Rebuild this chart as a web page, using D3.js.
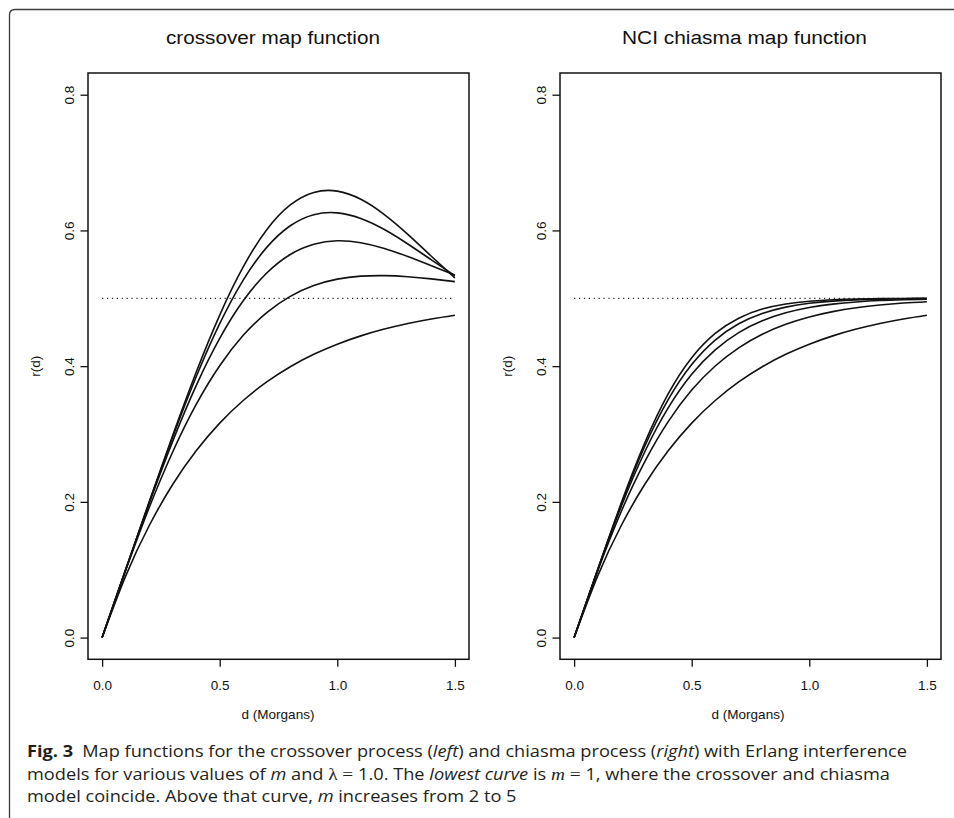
<!DOCTYPE html>
<html><head><meta charset="utf-8">
<script src="https://cdn.jsdelivr.net/npm/d3@7"></script>
<style>body{margin:0;background:#fff} svg{display:block}</style>
</head><body><svg id="chart" width="954" height="818"></svg>
<script>
// ---- data ----
const dValues = [0, 0.1, 0.2, 0.3, 0.4, 0.5, 0.6, 0.7, 0.8, 0.9, 1.0, 1.1, 1.2, 1.3, 1.4, 1.5];
const haldaneM1 = [0, 0.0906, 0.1648, 0.2256, 0.2753, 0.3161, 0.3494, 0.3767, 0.3991, 0.4174, 0.4323, 0.4446, 0.4546, 0.4629, 0.4696, 0.4751];
const crossoverM2 = [0, 0.0988, 0.1913, 0.2735, 0.3435, 0.4006, 0.4454, 0.4790, 0.5029, 0.5188, 0.5282, 0.5326, 0.5334, 0.5318, 0.5286, 0.5246];
const crossoverM3 = [0, 0.0998, 0.1975, 0.2892, 0.3713, 0.4409, 0.4963, 0.5373, 0.5646, 0.5797, 0.5847, 0.5819, 0.5734, 0.5615, 0.5479, 0.5341];
const crossoverM4 = [0, 0.1000, 0.1992, 0.2952, 0.3843, 0.4626, 0.5268, 0.5750, 0.6069, 0.6232, 0.6259, 0.6176, 0.6013, 0.5800, 0.5566, 0.5333];
const crossoverM5 = [0, 0.1000, 0.1997, 0.2978, 0.3910, 0.4753, 0.5463, 0.6010, 0.6375, 0.6560, 0.6579, 0.6459, 0.6234, 0.5942, 0.5619, 0.5299];
const chiasmaM2 = [0, 0.0978, 0.1855, 0.2590, 0.3183, 0.3647, 0.4002, 0.4270, 0.4470, 0.4617, 0.4725, 0.4804, 0.4860, 0.4901, 0.4930, 0.4950];
const chiasmaM3 = [0, 0.0994, 0.1928, 0.2735, 0.3385, 0.3880, 0.4240, 0.4495, 0.4669, 0.4786, 0.4864, 0.4914, 0.4946, 0.4967, 0.4979, 0.4987];
const chiasmaM4 = [0, 0.0998, 0.1961, 0.2816, 0.3507, 0.4023, 0.4384, 0.4624, 0.4776, 0.4870, 0.4926, 0.4958, 0.4977, 0.4987, 0.4993, 0.4996];
const chiasmaM5 = [0, 0.0999, 0.1978, 0.2865, 0.3590, 0.4123, 0.4482, 0.4707, 0.4841, 0.4916, 0.4957, 0.4979, 0.4990, 0.4995, 0.4998, 0.4999];
const xTicks = [0, 0.5, 1.0, 1.5];
const yTicks = [0, 0.2, 0.4, 0.6, 0.8];
const xLimits = [0, 1.5];
const yLimits = [0, 0.8];
const refLevel = 0.5;
const panelTitles = ["crossover map function", "NCI chiasma map function"];
const xLabel = "d (Morgans)";
const yLabel = "r(d)";

const crossoverSeries = [haldaneM1, crossoverM2, crossoverM3, crossoverM4, crossoverM5];
const chiasmaSeries = [haldaneM1, chiasmaM2, chiasmaM3, chiasmaM4, chiasmaM5];

// ---- drawing ----
const svg = d3.select("#chart");
const axisFont = "'Liberation Sans', Arial, Helvetica, sans-serif";
const ink = "#111";

// figure frame (top-left rounded corner)
svg.append("path")
  .attr("d", "M9.5,818 V15 Q9.5,9.5 15,9.5 H954")
  .attr("fill", "none").attr("stroke", "#3c3c3c").attr("stroke-width", 1.3);

const plotTop = 73, plotBottom = 659.3;
const panels = [
  {left: 88, right: 469, titleX: 273, titleW: 214, xLabX: 278, yLabX: 39.5, title: panelTitles[0], series: crossoverSeries},
  {left: 560, right: 941, titleX: 744.5, titleW: 245, xLabX: 748, yLabX: 511.5, title: panelTitles[1], series: chiasmaSeries}
];

function pad(ext) { const s = (ext[1] - ext[0]) * 0.04; return [ext[0] - s, ext[1] + s]; }

panels.forEach(p => {
  const x = d3.scaleLinear().domain(pad(xLimits)).range([p.left, p.right]);
  const y = d3.scaleLinear().domain(pad(yLimits)).range([plotBottom, plotTop]);
  const g = svg.append("g");

  // title
  g.append("text").text(p.title)
    .attr("x", p.titleX).attr("y", 44)
    .attr("text-anchor", "middle")
    .attr("font-family", axisFont).attr("font-size", 18).attr("fill", ink)
    .attr("textLength", p.titleW).attr("lengthAdjust", "spacingAndGlyphs");

  // reference dotted line
  const line = d3.line().x(d => x(d[0])).y(d => y(d[1]));
  g.append("path")
    .attr("d", line([[xLimits[0], refLevel], [xLimits[1], refLevel]]))
    .attr("fill", "none").attr("stroke", "#222").attr("stroke-width", 1.3)
    .attr("stroke-dasharray", "1.2,3.7");

  // curves
  const curve = d3.line().x((d, i) => x(dValues[i])).y(d => y(d)).curve(d3.curveNatural);
  p.series.forEach(s => {
    g.append("path").attr("d", curve(s))
      .attr("fill", "none").attr("stroke", ink).attr("stroke-width", 1.6)
      .attr("stroke-linejoin", "round");
  });

  // axes
  const yAxis = d3.axisLeft(y).tickValues(yTicks).tickSize(7.5).tickSizeOuter(0).tickFormat(d3.format(".1f"));
  const gy = g.append("g").attr("transform", `translate(${p.left},0)`).call(yAxis)
    .attr("font-family", axisFont).attr("font-size", 13.5);
  gy.select(".domain").remove();
  gy.selectAll(".tick line").attr("stroke", ink).attr("stroke-width", 1.3);
  gy.selectAll(".tick text").attr("x", null).attr("dy", null)
    .attr("text-anchor", "middle").attr("fill", ink)
    .attr("transform", "translate(-14.5,0) rotate(-90)");

  const xAxis = d3.axisBottom(x).tickValues(xTicks).tickSize(7.5).tickSizeOuter(0).tickFormat(d3.format(".1f"));
  const gx = g.append("g").attr("transform", `translate(0,${plotBottom})`).call(xAxis)
    .attr("font-family", axisFont).attr("font-size", 13.5);
  gx.select(".domain").remove();
  gx.selectAll(".tick line").attr("stroke", ink).attr("stroke-width", 1.3);
  gx.selectAll(".tick text").attr("y", 31).attr("dy", 0).attr("fill", ink);

  // box
  g.append("rect").attr("x", p.left).attr("y", plotTop)
    .attr("width", p.right - p.left).attr("height", plotBottom - plotTop)
    .attr("fill", "none").attr("stroke", ink).attr("stroke-width", 1.5);

  // axis labels
  g.append("text").text(xLabel).attr("x", p.xLabX).attr("y", 719)
    .attr("text-anchor", "middle").attr("font-family", axisFont).attr("font-size", 13.5).attr("fill", ink);
  g.append("text").text(yLabel)
    .attr("transform", `translate(${p.yLabX},${(plotTop + plotBottom) / 2}) rotate(-90)`)
    .attr("text-anchor", "middle").attr("font-family", axisFont).attr("font-size", 13.5).attr("fill", ink);
});

// ---- caption ----
const capFont = "'Open Sans', 'Noto Sans', sans-serif";
const mathFont = "'Liberation Serif', 'DejaVu Serif', serif";
const captionLines = [
  [["Fig. 3", "b"], ["\u2002Map functions for the crossover process (", ""], ["left", "i"], [") and chiasma process (", ""], ["right", "i"], [") with Erlang interference", ""]],
  [["models for various values of ", ""], ["m", "i"], [" and ", ""], ["\u03bb = ", "math"], ["1.0. The ", ""], ["lowest curve", "i"], [" is ", ""], ["m", "mi"], [" = ", "math"], ["1, where the crossover and chiasma", ""]],
  [["model coincide. Above that curve, ", ""], ["m", "i"], [" increases from 2 to 5", ""]]
];
const capBaselines = [757, 779.5, 802];
const capX = 27;
const capTargetW = 881; // width of first caption line
const lineNodes = captionLines.map((parts, li) => {
  const t = svg.append("text").attr("x", 0).attr("y", 0)
    .attr("font-family", capFont).attr("font-size", 16.5).attr("fill", "#231f20")
    .style("white-space", "pre");
  parts.forEach(([str, sty]) => {
    const ts = t.append("tspan").text(str);
    if (sty === "b") ts.attr("font-weight", "bold");
    if (sty === "i") ts.attr("font-style", "italic");
    if (sty === "math") ts.attr("font-family", mathFont).attr("font-size", 17.5);
    if (sty === "mi") ts.attr("font-family", mathFont).attr("font-style", "italic").attr("font-size", 17.5);
  });
  return t;
});
const w0 = lineNodes[0].node().getComputedTextLength();
const sx = capTargetW / w0;
lineNodes.forEach((t, i) => t.attr("transform", `translate(${capX},${capBaselines[i]}) scale(${sx},1)`));
</script>
</body></html>
